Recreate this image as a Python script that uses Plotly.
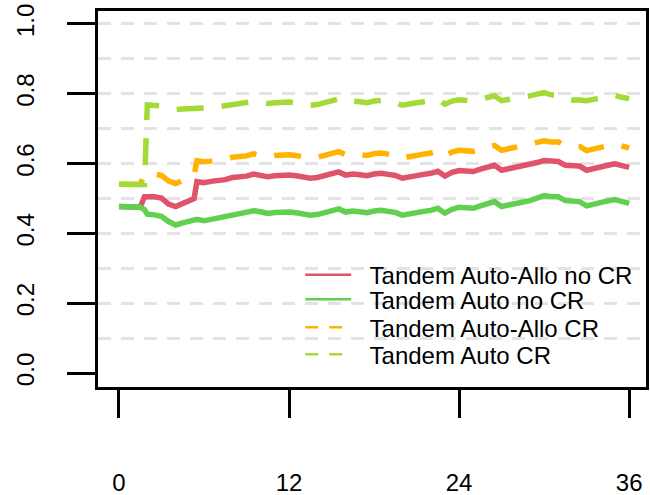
import plotly.graph_objects as go

months = [0, 0.5, 1, 1.5, 1.8, 2, 2.5, 3, 3.5, 4, 4.5, 5, 5.3, 5.5, 6, 6.5, 7, 7.5, 8, 8.5, 9, 9.5,
          10, 10.5, 11, 11.5, 12, 12.5, 13, 13.5, 14, 14.5, 15, 15.5, 16, 16.5, 17, 17.5, 18, 18.5,
          19, 19.5, 20, 20.5, 21, 21.5, 22, 22.5, 23, 23.5, 24, 24.5, 25, 25.5, 26, 26.5, 27, 27.5,
          28, 28.5, 29, 29.5, 30, 30.5, 31, 31.5, 32, 32.5, 33, 33.5, 34, 34.5, 35, 35.5, 36]

auto_allo_no_cr = [0.477, 0.477, 0.476, 0.475, 0.505, 0.505, 0.505, 0.501, 0.484, 0.477, 0.487, 0.496, 0.500, 0.548,
                   0.545, 0.549, 0.551, 0.554, 0.560, 0.562, 0.564, 0.570, 0.567, 0.562, 0.565, 0.567, 0.567,
                   0.565, 0.561, 0.558, 0.560, 0.565, 0.570, 0.576, 0.567, 0.570, 0.568, 0.565, 0.570, 0.572,
                   0.569, 0.566, 0.558, 0.563, 0.566, 0.569, 0.572, 0.578, 0.564, 0.575, 0.580, 0.580, 0.577,
                   0.584, 0.589, 0.595, 0.581, 0.585, 0.589, 0.592, 0.597, 0.603, 0.609, 0.606, 0.606, 0.595,
                   0.593, 0.593, 0.581, 0.587, 0.593, 0.595, 0.599, 0.593, 0.589]

auto_no_cr = [0.477, 0.477, 0.476, 0.475, 0.468, 0.455, 0.453, 0.449, 0.434, 0.424, 0.430, 0.437, 0.439, 0.440,
              0.436, 0.440, 0.445, 0.448, 0.455, 0.457, 0.459, 0.465, 0.462, 0.457, 0.460, 0.462, 0.461,
              0.459, 0.455, 0.452, 0.454, 0.459, 0.464, 0.470, 0.461, 0.464, 0.462, 0.459, 0.464, 0.466,
              0.463, 0.460, 0.452, 0.457, 0.460, 0.463, 0.466, 0.472, 0.458, 0.469, 0.475, 0.475, 0.472,
              0.479, 0.485, 0.491, 0.477, 0.481, 0.485, 0.488, 0.494, 0.501, 0.508, 0.505, 0.505, 0.494,
              0.491, 0.491, 0.479, 0.485, 0.491, 0.493, 0.497, 0.491, 0.486]

auto_allo_cr = [0.541, 0.541, 0.540, 0.540, 0.570, 0.570, 0.570, 0.566, 0.550, 0.543, 0.552, 0.561, 0.565, 0.608,
                0.605, 0.607, 0.609, 0.612, 0.618, 0.620, 0.622, 0.628, 0.625, 0.620, 0.623, 0.625, 0.625,
                0.623, 0.619, 0.616, 0.618, 0.623, 0.628, 0.634, 0.625, 0.628, 0.626, 0.623, 0.628, 0.630,
                0.627, 0.624, 0.616, 0.621, 0.624, 0.627, 0.630, 0.636, 0.622, 0.633, 0.638, 0.638, 0.635,
                0.641, 0.646, 0.652, 0.638, 0.642, 0.646, 0.649, 0.654, 0.660, 0.665, 0.662, 0.662, 0.651,
                0.649, 0.649, 0.637, 0.643, 0.649, 0.651, 0.655, 0.649, 0.645]

auto_cr = [0.541, 0.541, 0.540, 0.540, 0.540, 0.768, 0.768, 0.765, 0.760, 0.755, 0.756, 0.757, 0.758, 0.759,
           0.757, 0.760, 0.763, 0.766, 0.769, 0.771, 0.773, 0.778, 0.776, 0.772, 0.774, 0.776, 0.776,
           0.774, 0.770, 0.767, 0.769, 0.774, 0.779, 0.785, 0.776, 0.779, 0.777, 0.774, 0.779, 0.781,
           0.778, 0.775, 0.767, 0.772, 0.774, 0.777, 0.779, 0.784, 0.770, 0.779, 0.783, 0.782, 0.779,
           0.785, 0.789, 0.794, 0.780, 0.783, 0.787, 0.789, 0.794, 0.799, 0.803, 0.797, 0.796, 0.786,
           0.782, 0.782, 0.780, 0.784, 0.788, 0.791, 0.795, 0.790, 0.786]

series_names = ["Tandem Auto-Allo no CR", "Tandem Auto no CR", "Tandem Auto-Allo CR", "Tandem Auto CR"]
series_values = [auto_allo_no_cr, auto_no_cr, auto_allo_cr, auto_cr]
series_colors = ["#DF536B", "#61D04F", "#FFB300", "#A3DA36"]
series_dash = ["solid", "solid", "27px,18px", "27px,18px"]
legend_dash = ["solid", "solid", "13px,11px", "13px,11px"]
legend_ids = ["legend", "legend2", "legend3", "legend4"]
legend_tops = [0.357, 0.292, 0.218, 0.146]

x_ticks = [0, 12, 24, 36]
y_ticks = [0.0, 0.2, 0.4, 0.6, 0.8, 1.0]
y_tick_text = ["0.0", "0.2", "0.4", "0.6", "0.8", "1.0"]
grid_vals = [0.1, 0.2, 0.3, 0.4, 0.5, 0.6, 0.7, 0.8, 0.9, 1.0]

FONT = "Arial, Liberation Sans, sans-serif"
FS = 24

fig = go.Figure()
for name, vals, col, dash in zip(series_names, series_values, series_colors, series_dash):
    fig.add_trace(go.Scatter(x=months, y=vals, mode="lines", name=name, showlegend=False,
                             line=dict(color=col, width=5.5, dash=dash)))
for name, col, dash, lid in zip(series_names, series_colors, legend_dash, legend_ids):
    fig.add_trace(go.Scatter(x=[None], y=[None], mode="lines", name="\u00a0\u00a0" + name,
                             showlegend=True, legend=lid,
                             line=dict(color=col, width=2.5, dash=dash)))

legend_layout = {}
for lid, top in zip(legend_ids, legend_tops):
    legend_layout[lid] = dict(x=0.369, y=top, xanchor="left", yanchor="top",
                              bgcolor="rgba(0,0,0,0)", borderwidth=0, itemwidth=46,
                              font=dict(size=FS, family=FONT, color="black"))

fig.update_layout(
    width=650, height=495,
    margin=dict(l=98, r=4, t=11, b=108),
    paper_bgcolor="white", plot_bgcolor="white",
    font=dict(family=FONT, size=FS, color="black"),
    showlegend=True,
    xaxis=dict(range=[-1.48, 37.19], tickmode="array", tickvals=x_ticks,
               showgrid=False, zeroline=False, showline=True, mirror=True, automargin=False,
               linecolor="black", linewidth=2.5, ticks="outside", ticklen=28,
               tickwidth=2.5, tickcolor="black", ticklabelstandoff=44,
               ticklabeloverflow="allow", tickfont=dict(size=FS, family=FONT)),
    yaxis=dict(range=[-0.04, 1.037], tickmode="array", tickvals=y_ticks, ticktext=y_tick_text,
               showgrid=False, zeroline=False, showline=True, mirror=True, automargin=False,
               linecolor="black", linewidth=2.5, ticks="outside", ticklen=28,
               tickwidth=2.5, tickcolor="black", tickangle=-90, ticklabelstandoff=24,
               ticklabeloverflow="allow", tickfont=dict(size=FS, family=FONT),
               minor=dict(tickmode="array", tickvals=grid_vals, showgrid=True, ticks="",
                          gridcolor="#E3E3E3", gridwidth=2.5, griddash="13px,10px")),
    **legend_layout,
)

# remove the browser's default 8px body margin so the figure sits at the page origin
fig.write_html("out.html", config={"displayModeBar": False},
               post_script="document.body.style.margin='0px';")
